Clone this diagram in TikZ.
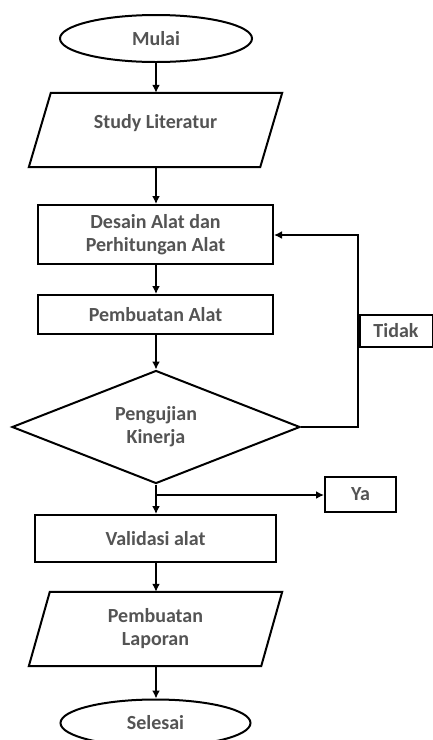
\documentclass[tikz,border=0pt]{standalone}
\usepackage{fontspec}
\setmainfont{Carlito}
\usetikzlibrary{shapes.geometric,arrows.meta}
\definecolor{txt}{rgb}{0.33,0.33,0.33}
\begin{document}
\begin{tikzpicture}[x=1pt,y=-1pt,
  every node/.style={font=\fontsize{20}{23}\selectfont\bfseries, text=txt, align=center, inner sep=0pt},
  line/.style={draw=black, line width=2pt},
  term/.style={line, ellipse, minimum width=#1, minimum height=47pt},
  proc/.style={line, rectangle},
  io/.style={rectangle, minimum width=253pt, minimum height=74pt},
  dec/.style={line, diamond, aspect=2.55, minimum width=288pt, minimum height=113pt},
  arr/.style={line, -{Latex[length=8pt,width=8pt]}}
]
\useasboundingbox (0,0) rectangle (433,740);
\fill[white] (0,0) rectangle (433,740);

\node[term=192pt] (mulai) at (156,38.5) {Mulai};
\node[io, label={[yshift=7pt]center:Study Literatur}] (study) at (155.5,130) {};
\draw[line, line join=miter] ([xshift=22pt]study.north west) -- (study.north east)
  -- ([xshift=-22pt]study.south east) -- (study.south west) -- cycle;
\node[proc, minimum width=235pt, minimum height=59pt] (desain) at (155.5,234.5) {Desain Alat dan\\Perhitungan Alat};
\node[proc, minimum width=235pt, minimum height=39pt] (buat) at (155.5,314.5) {Pembuatan Alat};
\node[dec] (uji) at (156,427) {Pengujian\\Kinerja};
\node[proc, minimum width=73pt, minimum height=32pt] (tidak) at (396,331) {Tidak};
\node[proc, minimum width=71pt, minimum height=35pt] (ya) at (360.5,494.5) {Ya};
\node[proc, minimum width=241pt, minimum height=47pt] (valid) at (155.5,538.5) {Validasi alat};
\node[io] (lapor) at (155.5,629) {Pembuatan\\Laporan};
\draw[line, line join=miter] ([xshift=21pt]lapor.north west) -- (lapor.north east)
  -- ([xshift=-21pt]lapor.south east) -- (lapor.south west) -- cycle;
\node[term=190pt] (selesai) at (155.5,723) {Selesai};

\coordinate (loopR) at (358,235);
\coordinate (br) at (156,495);

\draw[arr] (mulai.south) -- (mulai.south |- study.north);
\draw[arr] (mulai.south |- study.south) -- (mulai.south |- desain.north);
\draw[arr] (mulai.south |- desain.south) -- (mulai.south |- buat.north);
\draw[arr] (mulai.south |- buat.south) -- (uji.north);
\draw[arr] (uji.east) -| (loopR) -- (desain.east |- loopR);
\draw[arr] (uji.south) -- (uji.south |- valid.north);
\draw[arr] (br) -- (ya.west |- br);
\draw[arr] (uji.south |- valid.south) -- (uji.south |- lapor.north);
\draw[arr] (uji.south |- lapor.south) -- (uji.south |- selesai.north);
\end{tikzpicture}
\end{document}
